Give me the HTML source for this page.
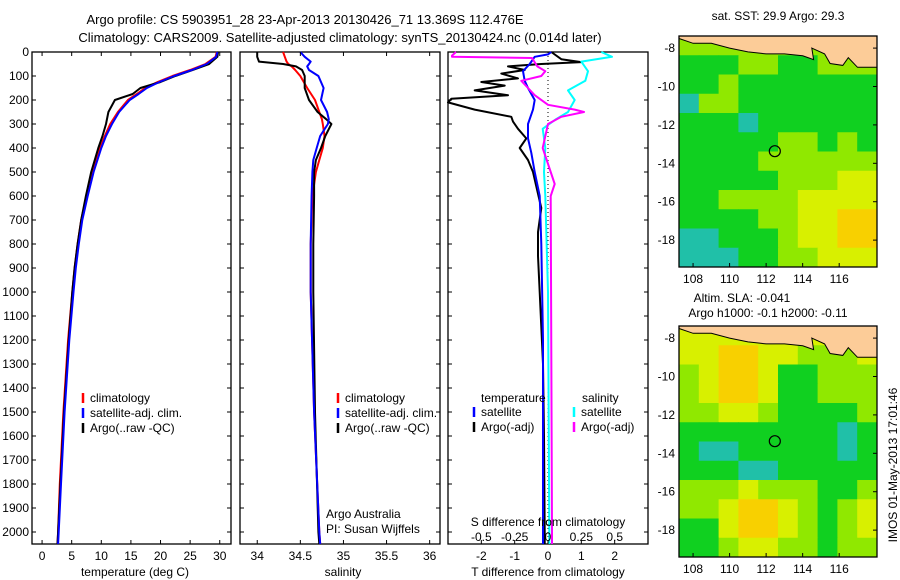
<!DOCTYPE html>
<html><head><meta charset="utf-8">
<style>
html,body{margin:0;padding:0;background:#fff;}
svg{display:block;font-family:"Liberation Sans",sans-serif;}
</style></head>
<body>
<svg id="chart" width="900" height="580" viewBox="0 0 900 580" xmlns="http://www.w3.org/2000/svg">
<text x="305" y="24" font-size="13" text-anchor="middle">Argo profile: CS 5903951_28 23-Apr-2013 20130426_71 13.369S 112.476E</text>
<text x="340" y="42" font-size="13" text-anchor="middle">Climatology: CARS2009. Satellite-adjusted climatology: synTS_20130424.nc (0.014d later)</text>
<g id="g"></g>
</svg>
<script>
// ---- depth profile data ----
const tDepth=[0,20,50,75,100,125,150,175,200,250,300,350,400,500,600,700,800,900,1000,1200,1500,1800,2000,2050];
const tClim=[29.5,29.3,27.6,25,22,19.5,17.4,16,14.5,12.8,11.5,10.6,9.8,8.5,7.5,6.6,6.0,5.5,5.1,4.4,3.6,3.0,2.7,2.6];
const tSat=[29.6,29.4,27.8,25.3,22.3,19.8,17.7,16.3,14.8,13.0,11.8,10.8,10.0,8.7,7.7,6.8,6.2,5.7,5.3,4.6,3.8,3.2,2.8,2.7];
const tArgo=[29.7,29.6,28.2,25.4,22.5,20,16.6,15.3,12.3,11.2,10.8,10.2,9.5,8.3,7.4,6.6,6.0,5.5,5.1,4.5,3.7,3.1,2.7,2.6];

const sDepth=[0,20,40,50,60,75,100,150,200,250,280,300,350,400,450,500,600,800,1000,1500,2000,2050];
const sClim=[34.30,34.32,34.34,34.36,34.40,34.44,34.50,34.58,34.67,34.72,34.75,34.76,34.78,34.76,34.72,34.68,34.64,34.62,34.62,34.66,34.72,34.73];
const sSat=[34.50,34.55,34.62,34.60,34.58,34.60,34.71,34.77,34.74,34.81,34.83,34.82,34.73,34.69,34.65,34.64,34.63,34.62,34.62,34.66,34.72,34.73];
const sArgo=[34.00,34.00,34.02,34.30,34.45,34.52,34.55,34.55,34.60,34.70,34.80,34.86,34.79,34.74,34.68,34.66,34.66,34.65,34.65,34.67,34.71,34.72];

const dTDepthA=[0,30,42,50,60,75,90,110,125,140,160,180,195,210,240,270,290,320,360,400,450,500,560,650,750,850,1000,1300,1600,2000,2050];
const dTArgo=[0.1,0.4,1.0,-0.2,-1.2,-0.7,-1.4,-0.9,-2.0,-1.3,-2.2,-1.2,-2.9,-3.0,-2.2,-1.1,-1.05,-0.9,-0.65,-0.85,-0.6,-0.45,-0.35,-0.2,-0.3,-0.3,-0.25,-0.15,-0.12,-0.1,-0.1];
const dTDepthS=[0,10,20,50,80,120,150,200,240,300,360,420,500,600,800,1200,2000,2050];
const dTSat=[0.1,0.0,-0.4,-0.55,-0.75,-0.7,-0.6,-0.4,-0.45,-0.6,-0.6,-0.5,-0.4,-0.25,-0.2,-0.15,-0.15,-0.15];
const dSDepthS=[0,20,40,80,120,160,200,250,280,320,400,500,600,1000,2000,2050];
const dSSat=[0.4,0.48,0.25,0.3,0.28,0.15,0.2,0.15,0.06,-0.04,-0.02,-0.03,-0.02,0,0.01,0.01];
const dSDepthA=[0,15,20,25,60,80,100,120,150,180,220,240,250,270,300,400,500,550,600,2000,2050];
const dSArgo=[-0.69,-0.72,-0.72,-0.12,-0.08,-0.02,-0.05,-0.2,-0.15,-0.1,0,0.2,0.27,0.1,0,-0.04,0.02,0.05,0.02,0.03,0.03];

const depthTicks=[0,100,200,300,400,500,600,700,800,900,1000,1100,1200,1300,1400,1500,1600,1700,1800,1900,2000];
const tTicks=[0,5,10,15,20,25,30];
const sTicks=[34,34.5,35,35.5,36];
const sTickLabels=["34","34.5","35","35.5","36"];
const dTTicks=[-2,-1,0,1,2];
const dSTicks=[-0.5,-0.25,0,0.25,0.5];
const dSTickLabels=["-0.5","-0.25","0","0.25","0.5"];

// ---- map data (levels 0..4) ----
const sstGrid=[
[2,2,2,2,2,2,2,2,3,3],
[1,1,1,2,2,1,1,2,2,2],
[1,1,2,1,1,1,1,1,1,1],
[0,2,2,1,1,1,1,1,1,1],
[1,1,1,0,1,1,1,1,1,1],
[1,1,1,1,1,2,2,1,2,1],
[1,1,1,1,2,2,2,2,2,2],
[1,1,1,1,1,2,2,2,3,3],
[1,1,2,2,2,2,3,3,3,3],
[1,1,1,1,2,2,3,3,4,4],
[0,0,1,1,1,2,3,3,4,4],
[0,0,0,1,1,2,2,3,3,3]];
const slaGrid=[
[3,3,3,3,3,3,3,3,3,3],
[3,3,4,4,3,3,2,2,2,3],
[2,3,4,4,3,1,1,2,2,2],
[2,3,4,4,3,1,1,2,2,2],
[2,2,3,3,2,1,1,1,1,2],
[1,1,1,1,1,1,1,1,0,1],
[1,0,0,1,1,1,1,1,0,1],
[1,1,1,0,0,1,1,1,1,1],
[2,2,2,3,2,2,2,1,1,2],
[2,2,3,4,4,3,2,1,2,3],
[1,1,3,4,4,3,2,1,2,3],
[1,1,2,3,3,2,2,1,2,2]];
const levelColors=["#20c0a8","#10d020","#90e800","#d8f000","#f8d000"];
const lonTicks=[108,110,112,114,116];
const latTicks=[-8,-10,-12,-14,-16,-18];
const argoLon=112.476, argoLat=-13.369;

const NS="http://www.w3.org/2000/svg";
const G=document.getElementById('g');
function mk(tag,attrs,parent){const e=document.createElementNS(NS,tag);for(const k in attrs)e.setAttribute(k,attrs[k]);(parent||G).appendChild(e);return e;}
function txt(s,x,y,attrs,name){const e=mk('text',Object.assign({x:x,y:y,'font-size':12},attrs||{}));e.textContent=s;


return e;}

const PT=52, PB=544, D0=0, D1=2050;
const yD=d=>PT+(d-D0)/(D1-D0)*(PB-PT);
function panel(x0,x1,xmin,xmax,name){
  const sx=v=>x0+(v-xmin)/(xmax-xmin)*(x1-x0);
  const r=mk('rect',{x:x0,y:PT,width:x1-x0,height:PB-PT,fill:'none',stroke:'#000','stroke-width':1.3});
  
  
  depthTicks.forEach(d=>{
    const t1=mk('line',{x1:x0,x2:x0+4,y1:yD(d),y2:yD(d),stroke:'#000'});
    
    
    const t2=mk('line',{x1:x1-4,x2:x1,y1:yD(d),y2:yD(d),stroke:'#000'});
    
    
  });
  return sx;
}
function line(xs,ds,sx,color,name,w){
  const p=xs.map((v,i)=>sx(v).toFixed(1)+','+yD(ds[i]).toFixed(1)).join(' ');
  const e=mk('polyline',{points:p,fill:'none',stroke:color,'stroke-width':w||2,'stroke-linejoin':'round'});
  
  
}
function xticks(sx,vals,labels,y,name,top){
  vals.forEach((v,i)=>{
    const a=mk('line',{x1:sx(v),x2:sx(v),y1:PB-4,y2:PB,stroke:'#000'});
    
    
    if(top){const b=mk('line',{x1:sx(v),x2:sx(v),y1:PT,y2:PT+4,stroke:'#000'});
    
    }
    txt(labels[i],sx(v),y,{'text-anchor':'middle'},name+'-label');
  });
}

// Panel 1: temperature
const sxT=panel(32,231,-1.7,31.9,'temperature-panel');
depthTicks.forEach(d=>txt(String(d),29,yD(d)+4,{'text-anchor':'end'},'depth-label'));
line(tClim,tDepth,sxT,'#ff0000','temp-climatology-line');
line(tArgo,tDepth,sxT,'#000000','temp-argo-line');
line(tSat,tDepth,sxT,'#0000ff','temp-satellite-line');
xticks(sxT,tTicks,tTicks.map(String),560,'temperature',true);
txt('temperature (deg C)',135,576,{'text-anchor':'middle'},'temperature-axis-title');
function legend(x,y,items,pre){
  items.forEach((it,i)=>{
    const l=mk('line',{x1:x,x2:x,y1:y+i*15-5,y2:y+i*15+5,stroke:it[0],'stroke-width':2.5});
    
    
    txt(it[1],x+7,y+i*15+4,{},pre+'-legend-entry');
  });
}
legend(83,398,[['#ff0000','climatology'],['#0000ff','satellite-adj. clim.'],['#000','Argo(..raw -QC)']],'temperature');

// Panel 2: salinity
const sxS=panel(240,440,33.8,36.12,'salinity-panel');
line(sClim,sDepth,sxS,'#ff0000','sal-climatology-line');
line(sArgo,sDepth,sxS,'#000000','sal-argo-line');
line(sSat,sDepth,sxS,'#0000ff','sal-satellite-line');
xticks(sxS,sTicks,sTickLabels,560,'salinity',true);
txt('salinity',343,576,{'text-anchor':'middle'},'salinity-axis-title');
legend(338,398,[['#ff0000','climatology'],['#0000ff','satellite-adj. clim.'],['#000','Argo(..raw -QC)']],'salinity');
txt('Argo Australia',326,518,{},'credit-argo-australia');
txt('PI: Susan Wijffels',326,533,{},'credit-pi');

// Panel 3: differences
const sxDT=panel(448,648,-3,3,'difference-panel');
const sxDS=v=>sxDT(v*4);
const zl=mk('line',{x1:sxDT(0),x2:sxDT(0),y1:PT,y2:PB,stroke:'#000','stroke-dasharray':'1,3'});


line(dTArgo,dTDepthA,sxDT,'#000000','tdiff-argo-line');
line(dTSat,dTDepthS,sxDT,'#0000ff','tdiff-satellite-line');
line(dSSat,dSDepthS,sxDS,'#00ffff','sdiff-satellite-line');
line(dSArgo,dSDepthA,sxDS,'#ff00ff','sdiff-argo-line');
xticks(sxDT,dTTicks,dTTicks.map(String),560,'tdiff',false);
dSTicks.forEach((v,i)=>txt(dSTickLabels[i],sxDS(v),541,{'text-anchor':'middle'},'sdiff-label'));
txt('S difference from climatology',548,526,{'text-anchor':'middle'},'sdiff-axis-title');
txt('T difference from climatology',548,576,{'text-anchor':'middle'},'tdiff-axis-title');
txt('temperature',481,402,{},'tdiff-legend-heading');
txt('salinity',582,402,{},'sdiff-legend-heading');
legend(474,412,[['#0000ff','satellite'],['#000','Argo(-adj)']],'tdiff');
legend(574,412,[['#00ffff','satellite'],['#ff00ff','Argo(-adj)']],'sdiff');

// Maps
const LON0=107.23, LON1=118.07, LAT0=-7.37, LAT1=-19.4;
function map(top,bot,grid,name){
  const X0=679,X1=877;
  const sx=v=>X0+(v-LON0)/(LON1-LON0)*(X1-X0);
  const sy=v=>top+(v-LAT0)/(LAT1-LAT0)*(bot-top);
  const nr=grid.length, nc=grid[0].length;
  const cw=(X1-X0)/nc, ch=(bot-top)/nr;
  grid.forEach((row,r)=>row.forEach((v,c)=>{
    const e=mk('rect',{x:X0+c*cw,y:top+r*ch,width:cw+0.5,height:ch+0.5,fill:levelColors[v]});
    
    
  }));
  const land=[[107.23,-7.37],[107.23,-7.5],[108,-7.75],[109,-7.75],[110,-8.0],[111,-8.2],[112,-8.3],[113,-8.3],[114,-8.4],[114.6,-8.6],[114.5,-8.0],[115.2,-8.3],[115.5,-8.8],[116.2,-8.9],[116.5,-8.5],[117,-9.0],[118.07,-9.0],[118.07,-7.37]];
  const lp=mk('polygon',{points:land.map(p=>sx(p[0]).toFixed(1)+','+sy(p[1]).toFixed(1)).join(' '),fill:'#fccc98',stroke:'#000','stroke-width':1});
  
  
  const fr=mk('rect',{x:X0,y:top,width:X1-X0,height:bot-top,fill:'none',stroke:'#000','stroke-width':1.3});
  
  
  const cc=mk('circle',{cx:sx(argoLon),cy:sy(argoLat),r:5.5,fill:'none',stroke:'#000','stroke-width':1.2});
  
  
  lonTicks.forEach(v=>{
    const t=mk('line',{x1:sx(v),x2:sx(v),y1:bot-4,y2:bot,stroke:'#000'});
    
    
    txt(String(v),sx(v),bot+16,{'text-anchor':'middle'},name+'-lon-label');
  });
  latTicks.forEach(v=>{
    const t=mk('line',{x1:X1-4,x2:X1,y1:sy(v),y2:sy(v),stroke:'#000'});
    
    
    txt(String(v).replace('-','-'),X0-4,sy(v)+4,{'text-anchor':'end'},name+'-lat-label');
  });
}
map(36,267,sstGrid,'sst-map');
map(326,557,slaGrid,'sla-map');
txt('sat. SST: 29.9 Argo: 29.3',778,20,{'text-anchor':'middle'},'sst-map-title');
txt('Altim. SLA: -0.041',742,302,{'text-anchor':'middle'},'sla-map-title-1');
txt('Argo h1000: -0.1 h2000: -0.11',768,317,{'text-anchor':'middle'},'sla-map-title-2');
txt('IMOS 01-May-2013 17:01:46',897,465,{'text-anchor':'middle',transform:'rotate(-90 897 465)'},'imos-timestamp');
</script>
</body></html>
